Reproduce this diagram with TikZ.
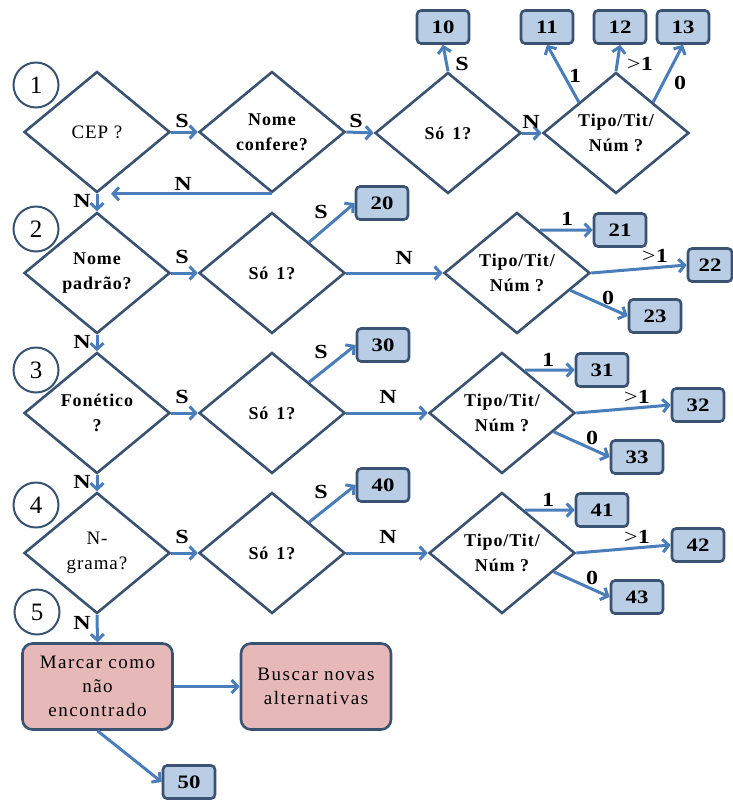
\documentclass[tikz,border=0pt]{standalone}
\usepackage{fontspec}
\setmainfont{Liberation Serif}
\newfontfamily\lsf[LetterSpace=5]{Liberation Serif}
\newfontfamily\lsfw[LetterSpace=8]{Liberation Serif}
\newfontfamily\wide[FakeStretch=1.2]{Liberation Serif}
\usetikzlibrary{shapes.geometric,arrows.meta}
\definecolor{dcol}{HTML}{3B5373}
\definecolor{acol}{HTML}{4A7EBB}
\definecolor{bfill}{HTML}{B9CDE5}
\definecolor{pfill}{HTML}{E6B9B8}
\begin{document}
\begin{tikzpicture}[x=1pt,y=-1pt,
  dia/.style={diamond, draw=dcol, line width=2.6pt, fill=white, minimum width=146pt, minimum height=121pt, inner sep=0pt, align=center, font=\lsf\bfseries\fontsize{18}{25}\selectfont},
  diar/.style={dia, font=\lsf\fontsize{19}{25}\selectfont},
  numbox/.style={rectangle, rounded corners=4pt, draw=dcol, line width=2.6pt, fill=bfill, minimum width=52pt, minimum height=33pt, inner sep=0pt, font=\wide\bfseries\fontsize{19}{20}\selectfont},
  pbox/.style={rectangle, rounded corners=10pt, draw=dcol, line width=2.6pt, fill=pfill, minimum width=150pt, minimum height=86pt, inner sep=0pt, align=center, font=\lsfw\fontsize{19}{24}\selectfont},
  num/.style={circle, draw=dcol, line width=2pt, minimum size=45pt, inner sep=0pt, font=\fontsize{25}{25}\selectfont},
  lbl/.style={font=\wide\bfseries\fontsize{20}{20}\selectfont, inner sep=0pt},
  arr/.style={draw=acol, line width=3pt, -{Straight Barb[length=6pt,width=13pt]}}
]
\useasboundingbox (0,0) rectangle (733,801);

% circles
\node[num] (c1) at (36,85) {1};
\node[num] (c2) at (36,229) {2};
\node[num] (c3) at (36,370) {3};
\node[num] (c4) at (36,505) {4};
\node[num] (c5) at (37,612) {5};

% row 1
\node[diar] (cep) at (97,132) {CEP ?};
\node[dia] (nc) at (272,132) {Nome\\confere?};
\node[dia] (so1) at (448,133) {Só\hspace{8pt}1?};
\node[dia] (tp1) at (616,133) {Tipo/Tit/\\Núm ?};
\node[numbox] (b10) at (443,27) {10};
\node[numbox] (b11) at (547,27) {11};
\node[numbox] (b12) at (620,27) {12};
\node[numbox] (b13) at (683,27) {13};

% row 2
\node[dia] (np) at (97,273) {Nome\\padrão?};
\node[dia] (so2) at (272,273) {Só\hspace{8pt}1?};
\node[dia] (tp2) at (517,273) {Tipo/Tit/\\Núm ?};
\node[numbox] (b20) at (382,203) {20};
\node[numbox] (b21) at (620,230) {21};
\node[numbox, minimum width=44pt] (b22) at (710,265) {22};
\node[numbox] (b23) at (655,316) {23};

% row 3
\node[dia] (fo) at (97,413) {Fonético\\?};
\node[dia] (so3) at (272,413) {Só\hspace{8pt}1?};
\node[dia] (tp3) at (502,413) {Tipo/Tit/\\Núm ?};
\node[numbox] (b30) at (383,345) {30};
\node[numbox] (b31) at (602,370) {31};
\node[numbox] (b32) at (698,405) {32};
\node[numbox] (b33) at (637,457) {33};

% row 4
\node[diar] (ng) at (97,553) {N-\\grama?};
\node[dia] (so4) at (272,553) {Só\hspace{8pt}1?};
\node[dia] (tp4) at (502,553) {Tipo/Tit/\\Núm ?};
\node[numbox] (b40) at (383,485) {40};
\node[numbox] (b41) at (602,510) {41};
\node[numbox] (b42) at (698,545) {42};
\node[numbox] (b43) at (637,597) {43};

% row 5
\node[pbox] (mc) at (97.5,686.5) {Marcar como\\não\\encontrado};
\node[pbox] (bn) at (316,686.5) {Buscar novas\\alternativas};
\node[numbox] (b50) at (189,782) {50};

% arrows row 1
\draw[arr] (cep.east) -- (nc.west);
\draw[arr] (nc.east) -- (so1.west);
\draw[arr] (so1.east) -- (tp1.west);
\draw[arr] (so1.north) -- (b10.south);
\draw[arr] (tp1.north west) -- (b11.south);
\draw[arr] (tp1.north) -- (b12.south);
\draw[arr] (tp1.north east) -- (b13.south);
\draw[arr, shorten >=14pt] (nc.south) -- (cep.south);
\draw[arr] (cep.south) -- (np.north);

% arrows row 2
\draw[arr] (np.east) -- (so2.west);
\draw[arr] (so2.east) -- (tp2.west);
\draw[arr] (so2.north east) -- (b20.west);
\draw[arr] (tp2.62) -- (b21.west);
\draw[arr] (tp2.east) -- (b22.west);
\draw[arr] (tp2.-18) -- (b23.west);
\draw[arr] (np.south) -- (fo.north);

% arrows row 3
\draw[arr] (fo.east) -- (so3.west);
\draw[arr] (so3.east) -- (tp3.west);
\draw[arr] (so3.north east) -- (b30.west);
\draw[arr] (tp3.62) -- (b31.west);
\draw[arr] (tp3.east) -- (b32.west);
\draw[arr] (tp3.-20) -- (b33.west);
\draw[arr] (fo.south) -- (ng.north);

% arrows row 4
\draw[arr] (ng.east) -- (so4.west);
\draw[arr] (so4.east) -- (tp4.west);
\draw[arr] (so4.north east) -- (b40.west);
\draw[arr] (tp4.62) -- (b41.west);
\draw[arr] (tp4.east) -- (b42.west);
\draw[arr] (tp4.-20) -- (b43.west);
\draw[arr] (ng.south) -- (mc.north);

% arrows row 5
\draw[arr] (mc.east) -- (bn.west);
\draw[arr] (mc.south) -- (b50.west);

% labels row 1
\node[lbl] (l1a) at (182,121) {S};
\node[lbl] (l1b) at (356,121) {S};
\node[lbl] (l1c) at (531,122) {N};
\node[lbl] (l1d) at (462,64) {S};
\node[lbl] (l1e) at (575,76) {1};
\node[lbl] (l1f) at (640,64) {{\mdseries>}1};
\node[lbl] (l1g) at (680,83) {0};
\node[lbl] (l1h) at (183,184) {N};
\node[lbl] (l1i) at (82,201) {N};

% labels row 2
\node[lbl] (l2a) at (182,257) {S};
\node[lbl] (l2b) at (321,212) {S};
\node[lbl] (l2c) at (404,258) {N};
\node[lbl] (l2d) at (567,219) {1};
\node[lbl] (l2e) at (655,256) {{\mdseries>}1};
\node[lbl] (l2f) at (608,298) {0};
\node[lbl] (l2g) at (82,342) {N};

% labels row 3
\node[lbl] (l3a) at (182,397) {S};
\node[lbl] (l3b) at (321,352) {S};
\node[lbl] (l3c) at (388,397) {N};
\node[lbl] (l3d) at (548,360) {1};
\node[lbl] (l3e) at (637,397) {{\mdseries>}1};
\node[lbl] (l3f) at (592,438) {0};
\node[lbl] (l3g) at (82,482) {N};

% labels row 4
\node[lbl] (l4a) at (182,537) {S};
\node[lbl] (l4b) at (321,492) {S};
\node[lbl] (l4c) at (388,537) {N};
\node[lbl] (l4d) at (548,500) {1};
\node[lbl] (l4e) at (637,537) {{\mdseries>}1};
\node[lbl] (l4f) at (592,578) {0};
\node[lbl] (l4g) at (82,623) {N};
\end{tikzpicture}
\end{document}
